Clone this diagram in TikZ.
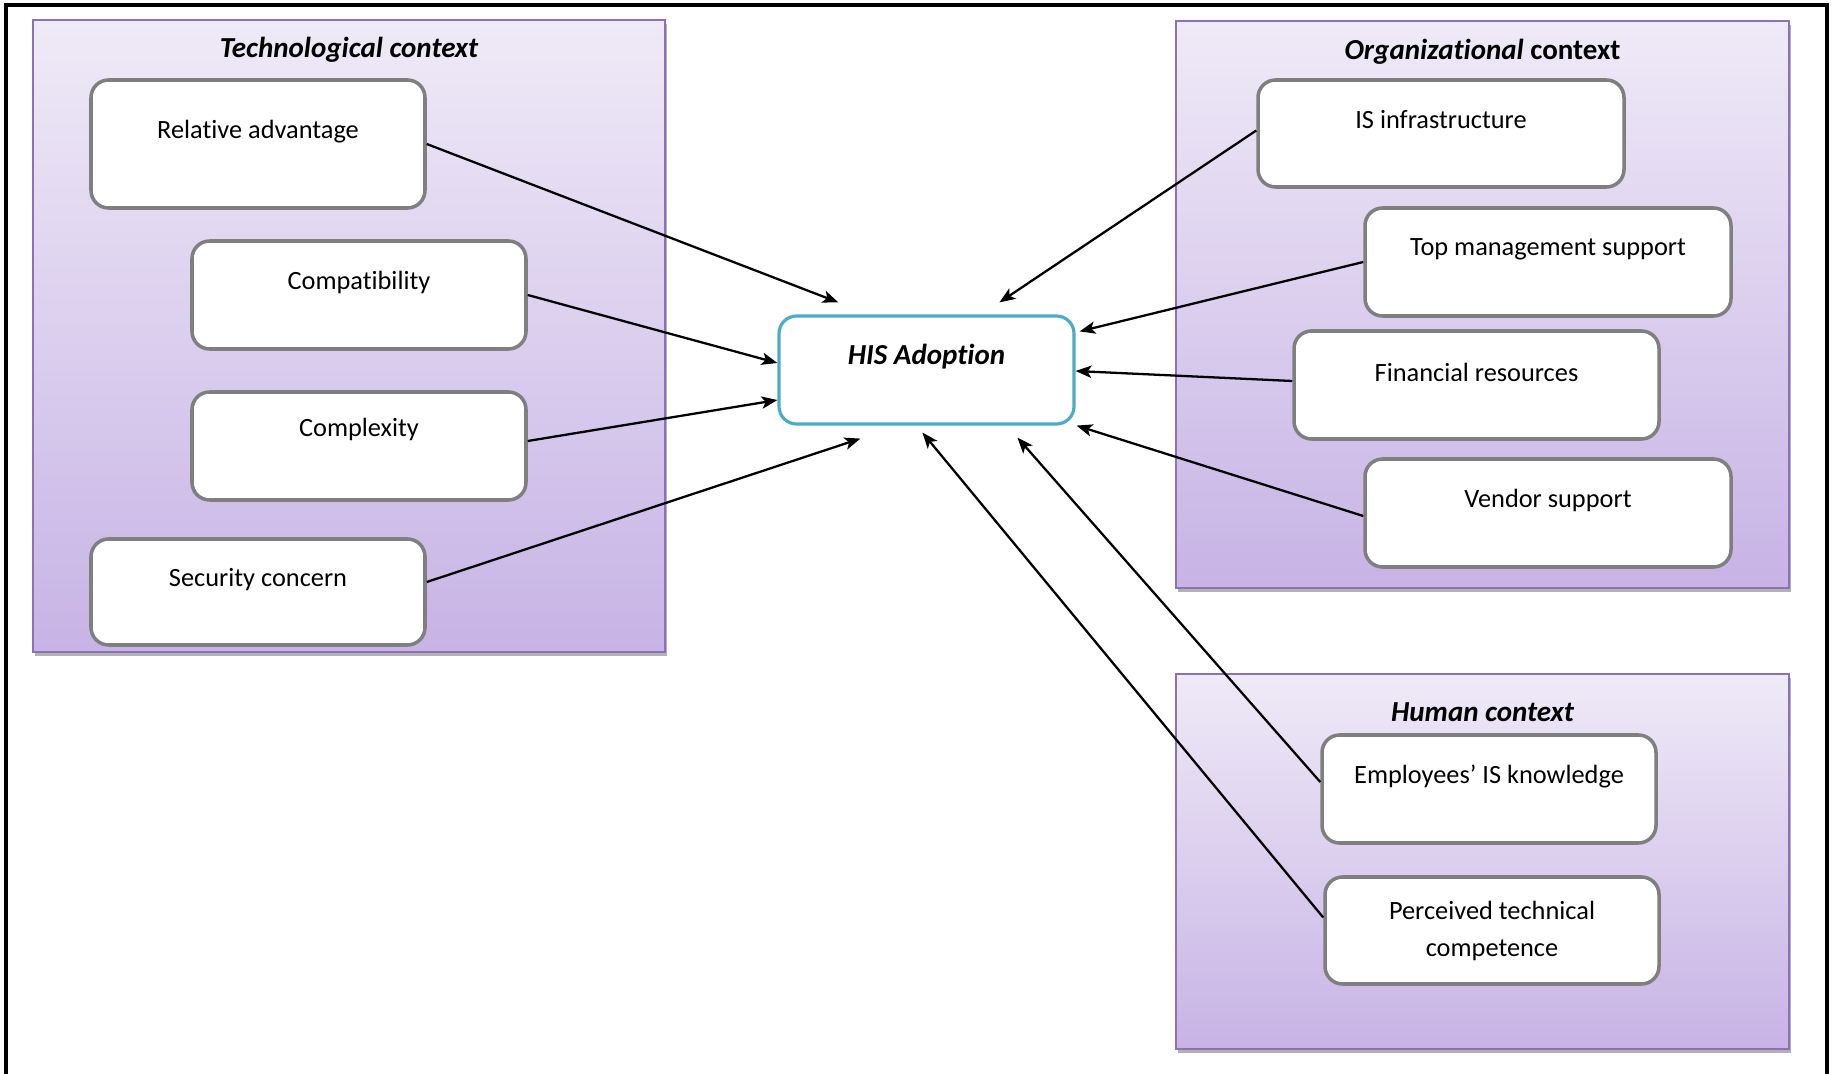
\documentclass[tikz,border=0pt]{standalone}
\usepackage{fontspec}
\setmainfont{Carlito}[Ligatures=NoCommon]
\usetikzlibrary{calc,arrows.meta,shadows,fit}

\definecolor{ctxtop}{HTML}{EFEAF7}
\definecolor{ctxbot}{HTML}{C7B3E5}
\definecolor{ctxline}{HTML}{8C70B8}
\definecolor{boxline}{HTML}{7F7F7F}
\definecolor{hisline}{HTML}{4BACC6}

\begin{document}
\begin{tikzpicture}[x=0.02cm,y=-0.02cm,
  ctx/.style={draw=ctxline, line width=1pt, top color=ctxtop, bottom color=ctxbot,
    inner sep=0pt, drop shadow={shadow xshift=1pt, shadow yshift=-2.5pt, opacity=0.5, fill=black!60}},
  inbox/.style={draw=boxline, fill=white, line width=2pt, rounded corners=10pt, inner sep=0pt},
  hisbox/.style={draw=hisline, fill=white, line width=1.8pt, rounded corners=10pt, inner sep=0pt},
  lbl/.style={inner sep=0pt, align=center, font=\fontsize{15}{21}\selectfont},
  ttl/.style={inner sep=0pt, font=\fontsize{16.5}{20}\selectfont\bfseries},
  arr/.style={line width=1.3pt, -{Stealth[length=9pt, width=7pt, inset=2.2pt]}}
]
\useasboundingbox (0,0) rectangle (1836,1074);
\clip (0,0) rectangle (1836,1074);

% outer frame (its lower edge runs past the page)
\draw[line width=2pt] (6,5) rectangle (1827,1100);

% context panels
\node[ctx, fit={(33,20) (665,652)}] (tech) {};
\node[ctx, fit={(1176,21) (1789,588)}] (org) {};
\node[ctx, fit={(1176,674) (1789,1049)}] (hum) {};

\node[ttl] (tech-t) at ($(tech.north)+(0,31)$) {\itshape Technological context};
\node[ttl] (org-t) at ($(org.north)+(0,32)$) {\itshape Organizational\upshape{} context};
\node[ttl] (hum-t) at ($(hum.north)+(0,39)$) {\itshape Human context};

% technological factors
\node[inbox, fit={(91,80) (425,208)}] (ra) {};
\node[inbox, fit={(192,241) (526,349)}] (comp) {};
\node[inbox, fit={(192,392) (526,500)}] (cplx) {};
\node[inbox, fit={(91,539) (425,645)}] (sec) {};
\node[lbl] (ra-l) at ($(ra.north)+(0,53)$) {Relative advantage};
\node[lbl] (comp-l) at ($(comp.north)+(0,43)$) {Compatibility};
\node[lbl] (cplx-l) at ($(cplx.north)+(0,39)$) {Complexity};
\node[lbl] (sec-l) at ($(sec.north)+(0,42)$) {Security concern};

% organizational factors
\node[inbox, fit={(1258,80) (1624,187)}] (isi) {};
\node[inbox, fit={(1365,208) (1731,316)}] (top) {};
\node[inbox, fit={(1294,331) (1659,439)}] (fin) {};
\node[inbox, fit={(1365,459) (1731,567)}] (ven) {};
\node[lbl] (isi-l) at ($(isi.north)+(0,41)$) {IS infrastructure};
\node[lbl] (top-l) at ($(top.north)+(0,43)$) {Top management support};
\node[lbl] (fin-l) at ($(fin.north)+(0,43)$) {Financial resources};
\node[lbl] (ven-l) at ($(ven.north)+(0,43)$) {Vendor support};

% human factors
\node[inbox, fit={(1322,735) (1656,843)}] (emp) {};
\node[inbox, fit={(1325,877) (1659,984)}] (per) {};
\node[lbl] (emp-l) at ($(emp.north)+(0,43)$) {Employees’ IS knowledge};
\node[lbl] (per-l) at ($(per.north)+(0,56)$) {Perceived technical\\competence};

% outcome
\node[hisbox, fit={(779,316) (1074,424)}] (his) {};
\node[ttl] (his-l) at ($(his.north)+(0,42)$) {\itshape HIS Adoption};

% arrow tips around the outcome box
\coordinate (t1) at ($(his.north west)+(61,-12)$);
\coordinate (t2) at ($(his.west)+(0,-7)$);
\coordinate (t3) at ($(his.west)+(0,30)$);
\coordinate (t4) at ($(his.south west)+(83,13)$);
\coordinate (t5) at ($(his.north west)+(222,-12)$);
\coordinate (t6) at ($(his.north east)+(4,17)$);
\coordinate (t7) at ($(his.east)+(0,1)$);
\coordinate (t8) at ($(his.south east)+(1,0)$);
\coordinate (t9) at ($(his.south west)+(240,12)$);
\coordinate (t10) at ($(his.south west)+(145,7)$);

\draw[arr] (ra.east) -- (t1);
\draw[arr] (comp.east) -- (t2);
\draw[arr] ($(cplx.east)+(0,-5)$) -- (t3);
\draw[arr] ($(sec.east)+(0,-10)$) -- (t4);
\draw[arr] ($(isi.west)+(0,-3)$) -- (t5);
\draw[arr] (top.west) -- (t6);
\draw[arr] ($(fin.west)+(0,-4)$) -- (t7);
\draw[arr] ($(ven.west)+(0,3)$) -- (t8);
\draw[arr] ($(emp.west)+(0,-7)$) -- (t9);
\draw[arr] ($(per.west)+(0,-13)$) -- (t10);
\end{tikzpicture}
\end{document}
